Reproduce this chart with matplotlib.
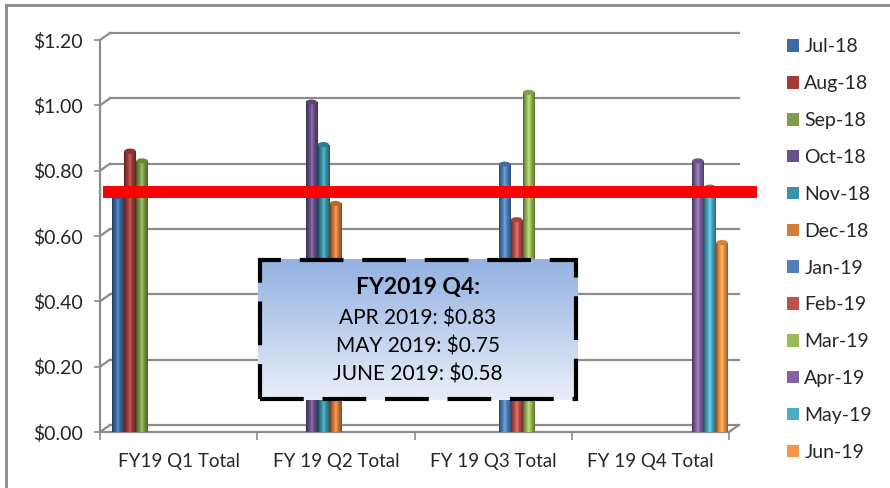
import numpy as np
import matplotlib
matplotlib.use('Agg')
import matplotlib.pyplot as plt
from matplotlib.colors import LinearSegmentedColormap, to_rgb
from matplotlib.patches import Rectangle, Patch, Ellipse
from matplotlib.lines import Line2D
import matplotlib.transforms as mtransforms

plt.rcParams['font.family'] = ['Lato', 'DejaVu Sans']

# data
quarters = ['FY19 Q1 Total', 'FY 19 Q2 Total', 'FY 19 Q3 Total', 'FY 19 Q4 Total']
months = ['Jul-18', 'Aug-18', 'Sep-18', 'Oct-18', 'Nov-18', 'Dec-18',
          'Jan-19', 'Feb-19', 'Mar-19', 'Apr-19', 'May-19', 'Jun-19']
values = [0.72, 0.86, 0.83, 1.01, 0.88, 0.70, 0.82, 0.65, 1.04, 0.83, 0.75, 0.58]
quarter_of = [0, 0, 0, 1, 1, 1, 2, 2, 2, 3, 3, 3]
colors = ['#3D6AA5', '#A23D3B', '#7F9C48', '#68508C', '#3892A8', '#D57C38',
          '#4F81BD', '#C0504D', '#9BBB59', '#8064A2', '#4BACC6', '#F79646']
target = 0.735
yticks = [0, 0.2, 0.4, 0.6, 0.8, 1.0, 1.2]

box_title = 'FY2019 Q4:'
box_lines = ['APR 2019: $0.83', 'MAY 2019: $0.75', 'JUNE 2019: $0.58']

W, H = 890, 488
fig = plt.figure(figsize=(W / 100, H / 100), dpi=100)
ax = fig.add_axes([100 / W, (H - 432) / H, 629 / W, (432 - 40) / H])
ax.set_xlim(-0.5, 3.5)
ax.set_ylim(0, 1.2)

grey = '#8C8C8C'
txt = '#262626'

# 3d depth of the back wall in pixels
dx_px, dy_px = 10, 7
dx_ax = dx_px / 629
dy_dat = dy_px / (392 / 1.2)
px_dat = 1.2 / 392
blend = mtransforms.blended_transform_factory(ax.transAxes, ax.transData)

for v in yticks:
    ax.plot([dx_ax, 1 + dx_ax], [v + dy_dat, v + dy_dat], color=grey, lw=1.6,
            transform=blend, clip_on=False, zorder=1)
    ax.plot([0, dx_ax], [v, v + dy_dat], color=grey, lw=1.6,
            transform=blend, clip_on=False, zorder=1)
# floor right edge
ax.plot([1, 1 + dx_ax], [0, dy_dat], color=grey, lw=1.6, transform=blend,
        clip_on=False, zorder=1)

for s in ['top', 'right']:
    ax.spines[s].set_visible(False)
for s in ['left', 'bottom']:
    ax.spines[s].set_color(grey)
    ax.spines[s].set_linewidth(1.6)

ax.set_yticks(yticks)
ax.set_yticklabels(['${:.2f}'.format(v) for v in yticks], fontsize=14, color=txt)
ax.tick_params(axis='y', length=4.5, width=1.2, color=grey, pad=8)
ax.set_xticks(range(len(quarters)))
ax.set_xticklabels(quarters, fontsize=13.5, color=txt)
ax.set_xticks(np.arange(-0.5, 3.6, 1), minor=True)
ax.tick_params(axis='x', which='major', length=0, pad=15)
ax.tick_params(axis='x', which='minor', length=6, width=1.2, color=grey)

# cylinder-like bars
slot0 = -0.385
step = 0.0764
width = 0.072
shade = np.array([0.55, 0.8, 1.0, 1.05, 0.95, 0.8, 0.6])
for k in range(len(months)):
    x = quarter_of[k] + slot0 + k * step
    bar = ax.bar(x, values[k], width=width, color=colors[k],
                 edgecolor='none', zorder=3)[0]
    base = np.array(to_rgb(colors[k]))
    cmap = LinearSegmentedColormap.from_list(
        'c%d' % k, [tuple(np.clip(base * f + (0.12 if f > 1 else 0), 0, 1)) for f in shade])
    im = ax.imshow(np.linspace(0, 1, 64).reshape(1, -1), cmap=cmap, aspect='auto',
                   extent=[x - width / 2, x + width / 2, 0, values[k]], zorder=3.5)
    im.set_clip_path(bar)
    # top of the cylinder
    ax.add_patch(Ellipse((x, values[k]), width, 5 * px_dat, facecolor=base * 0.85,
                         edgecolor='none', zorder=3.6))

ax.set_xlim(-0.5, 3.5)
ax.set_ylim(0, 1.2)

# red target line
ax.plot([-0.48, 3.68], [target, target], color='#FF0000', lw=8.6,
        solid_capstyle='butt', clip_on=False, zorder=5)

# call-out box
bax = fig.add_axes([258 / W, (H - 400) / H, 320 / W, 141 / H])
grad = LinearSegmentedColormap.from_list('g', ['#93B1E1', '#E8EEF8'])
bax.imshow(np.linspace(0, 1, 64).reshape(-1, 1), cmap=grad, aspect='auto',
           extent=[0, 1, 0, 1], origin='upper')
bax.set_xlim(0, 1)
bax.set_ylim(0, 1)
bax.axis('off')
bax.add_patch(Rectangle((0.006, 0.01), 0.988, 0.98, fill=False, edgecolor='black',
                        lw=3.0, linestyle=(0, (10.5, 4.5)), transform=bax.transAxes,
                        clip_on=False, joinstyle='miter'))
bax.text(0.5, 0.80, box_title, ha='center', va='center', fontsize=16.5,
         fontweight='bold', color='black')
for i, line in enumerate(box_lines):
    bax.text(0.5, 0.58 - i * 0.2, line, ha='center', va='center', fontsize=15,
             color='black')

# legend
handles = [Patch(facecolor=c, edgecolor='none') for c in colors]
fig.legend(handles, months, loc='upper left', bbox_to_anchor=(769 / W, 1 - 21 / H),
           frameon=False, fontsize=14, labelspacing=1.02, handlelength=0.62,
           handleheight=0.62, handletextpad=0.3, labelcolor=txt)

# outer frame
fig.add_artist(Line2D([6 / W, 1], [1 - 5 / H, 1 - 5 / H], color='#8C8C8C', lw=2,
                      transform=fig.transFigure))
fig.add_artist(Line2D([6 / W, 6 / W], [0, 1 - 5 / H], color='#8C8C8C', lw=2,
                      transform=fig.transFigure))

fig.savefig('out.png', dpi=100)
